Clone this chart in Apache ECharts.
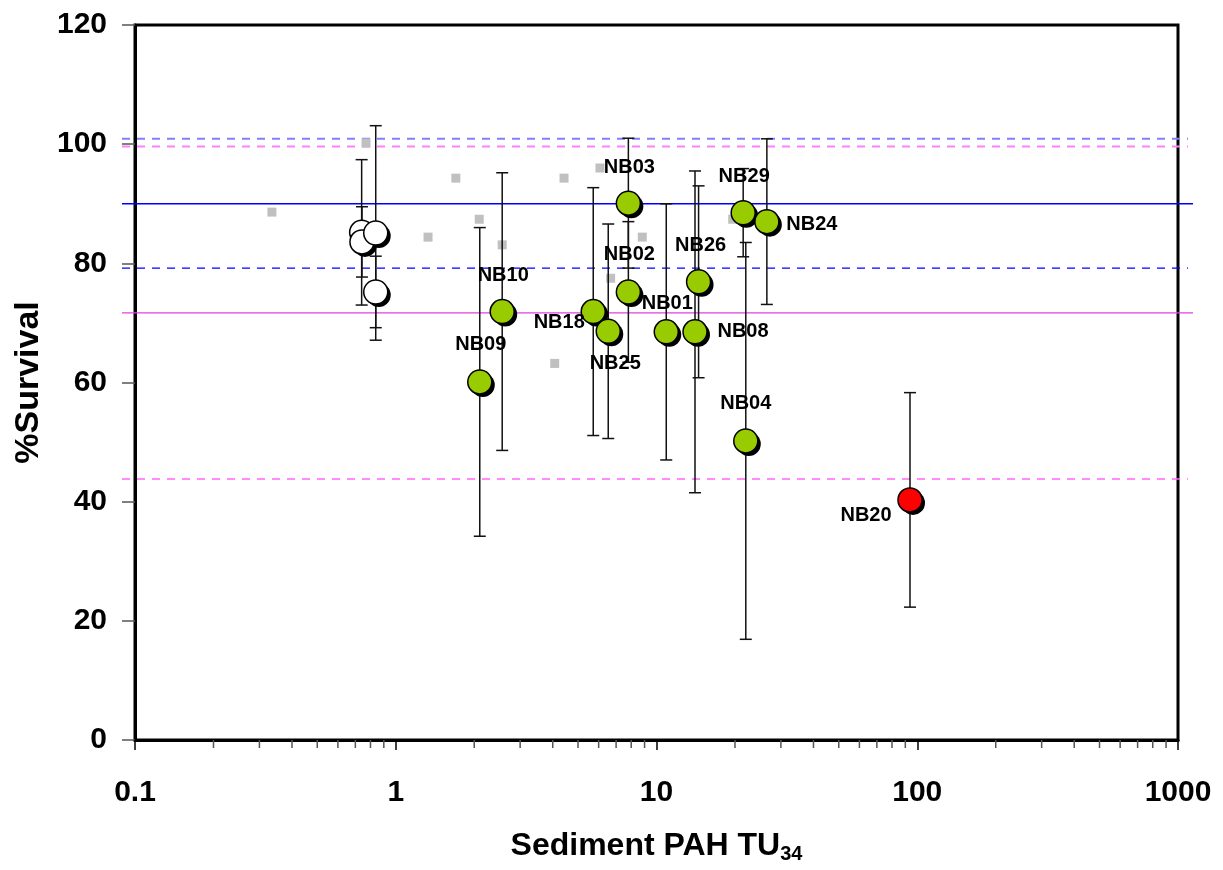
<!DOCTYPE html>
<html>
<head>
<meta charset="utf-8">
<script src="https://cdn.jsdelivr.net/npm/echarts@6/dist/echarts.min.js"></script>
<style>html,body{margin:0;padding:0;background:#fff;}#chart{width:1223px;height:870px;}</style>
</head>
<body>
<div id="chart"></div>
<script>
// ---- data ----
const siteNames    = ['NB09','NB10','NB18','NB25','NB03','NB02','NB01','NB08','NB26','NB29','NB24','NB04','NB20'];
const siteTU       = [2.10, 2.56, 5.72, 6.53, 7.80, 7.80, 10.9, 14.05, 14.5, 21.5, 26.5, 22.0, 93.8];
const siteSurvival = [60.1, 71.9, 71.9, 68.6, 90.1, 75.2, 68.5, 68.5, 76.9, 88.5, 87.0, 50.2, 40.3];
const siteSD       = [25.9, 23.3, 20.8, 18.0, 10.9, 11.8, 21.5, 27.0, 16.1, 7.4, 13.9, 33.3, 18.0];
const significantSites = ['NB20'];

const controlTU       = [0.740, 0.742, 0.838, 0.838];
const controlSurvival = [85.2, 83.6, 85.1, 75.2];
const controlSD       = [12.2, 5.9, 18.0, 6.0];

const otherTU       = [0.335, 0.769, 1.33, 1.70, 2.09, 2.56, 4.42, 6.07, 4.07, 6.67, 8.82, 19.6];
const otherSurvival = [88.6, 100.2, 84.4, 94.3, 87.4, 83.1, 94.3, 96.0, 63.2, 77.5, 84.4, 87.4];

const refValues = [100.9, 99.6, 90.0, 79.2, 71.7, 43.8];

const yTicks = [0, 20, 40, 60, 80, 100, 120];
const xDecades = [0.1, 1, 10, 100, 1000];

// ---- styles (not data) ----
const refStyles = [
  {color:'#7f7fff', width:2,   type:[8,7]},
  {color:'#ff80ff', width:2,   type:[8,7]},
  {color:'#0000ff', width:1.3, type:'solid'},
  {color:'#0000ff', width:1.3, type:[8,7]},
  {color:'#e040e0', width:1.3, type:'solid'},
  {color:'#ff66ff', width:1.5, type:[8,7]}
];
const labelOffsets = {
  NB03:[1,-36], NB02:[1,-37], NB10:[1,-36], NB09:[1,-37], NB18:[-34,11], NB25:[7,32],
  NB01:[1,-28], NB08:[48,0], NB26:[2,-36], NB29:[1,-36], NB24:[45,3], NB04:[0,-37], NB20:[-44,16]
};
const FONT = 'Liberation Sans, Arial, Helvetica, sans-serif';

// minor ticks 2..9 per decade
const minorTicks = [];
for (let d = 0; d < xDecades.length - 1; d++) {
  for (let m = 2; m <= 9; m++) minorTicks.push([+(xDecades[d] * m).toPrecision(3), 0]);
}

const chart = echarts.init(document.getElementById('chart'));

const series = [];

// reference lines, drawn across the plot and slightly beyond the frame
series.push({
  type: 'custom', z: 1, clip: false, silent: true,
  data: refValues.map((v, i) => [xDecades[0], v, i]),
  renderItem: function (params, api) {
    const v = api.value(1), i = api.value(2);
    const s = refStyles[i];
    const a = api.coord([xDecades[0], v]);
    const b = api.coord([xDecades[xDecades.length - 1], v]);
    const ext = s.type === 'solid' ? 15 : 10;
    return {type: 'line', shape: {x1: a[0] - 13, y1: a[1], x2: b[0] + ext, y2: b[1]},
      style: {stroke: s.color, lineWidth: s.width, lineDash: s.type === 'solid' ? null : s.type}};
  }
});

series.push({
  type: 'scatter', z: 2, symbol: 'rect', symbolSize: 9,
  itemStyle: {color: '#c0c0c0', opacity: 1},
  data: otherTU.map((x, i) => [x, otherSurvival[i]])
});

function errRender(params, api) {
  const x = api.value(0), y = api.value(1), e = api.value(2);
  const top = api.coord([x, y + e]);
  const bot = api.coord([x, y - e]);
  const hw = 6;
  const st = {stroke: '#111', lineWidth: 1.5};
  return {type: 'group', children: [
    {type: 'line', shape: {x1: top[0], y1: top[1], x2: bot[0], y2: bot[1]}, style: st},
    {type: 'line', shape: {x1: top[0] - hw, y1: top[1], x2: top[0] + hw, y2: top[1]}, style: st},
    {type: 'line', shape: {x1: bot[0] - hw, y1: bot[1], x2: bot[0] + hw, y2: bot[1]}, style: st}
  ]};
}
const errData = controlTU.map((x, i) => [x, controlSurvival[i], controlSD[i]])
  .concat(siteTU.map((x, i) => [x, siteSurvival[i], siteSD[i]]));
series.push({type: 'custom', z: 3, renderItem: errRender, data: errData, clip: false, silent: true});

// shadows
const allPts = controlTU.map((x, i) => [x, controlSurvival[i]]).concat(siteTU.map((x, i) => [x, siteSurvival[i]]));
series.push({
  type: 'scatter', z: 4, symbol: 'circle', symbolSize: 24, symbolOffset: [3, 3],
  itemStyle: {color: '#000', opacity: 1}, silent: true, data: allPts
});

series.push({
  type: 'scatter', z: 5, symbol: 'circle', symbolSize: 24,
  itemStyle: {color: '#ffffff', borderColor: '#000', borderWidth: 1.5, opacity: 1},
  data: controlTU.map((x, i) => [x, controlSurvival[i]])
});

series.push({
  type: 'scatter', z: 6, symbol: 'circle', symbolSize: 24,
  itemStyle: {borderColor: '#000', borderWidth: 1.5, opacity: 1},
  data: siteTU.map((x, i) => ({
    name: siteNames[i],
    value: [x, siteSurvival[i]],
    itemStyle: {color: significantSites.includes(siteNames[i]) ? '#ff0000' : '#99cc00', opacity: 1},
    label: {show: true, position: 'inside', offset: labelOffsets[siteNames[i]], formatter: siteNames[i],
      color: '#000', fontSize: 20, fontWeight: 'bold', fontFamily: FONT}
  }))
});

// minor x ticks
series.push({
  type: 'custom', z: 7, clip: false, silent: true, data: minorTicks,
  renderItem: function (params, api) {
    const p = api.coord([api.value(0), 0]);
    return {type: 'line', shape: {x1: p[0], y1: p[1], x2: p[0], y2: p[1] + 8}, style: {stroke: '#555', lineWidth: 1.5}};
  }
});

chart.setOption({
  animation: false,
  backgroundColor: '#fff',
  grid: {left: 135, right: 45, top: 25, bottom: 130, show: true, borderColor: '#000', borderWidth: 3},
  xAxis: {
    type: 'log', logBase: 10, min: xDecades[0], max: xDecades[xDecades.length - 1],
    name: '{m|Sediment PAH TU}{s|34}', nameLocation: 'middle', nameGap: 88,
    nameTextStyle: {rich: {
      m: {fontSize: 32, fontWeight: 'bold', fontFamily: FONT, color: '#000', lineHeight: 36, verticalAlign: 'middle'},
      s: {fontSize: 20, fontWeight: 'bold', fontFamily: FONT, color: '#000', lineHeight: 16, verticalAlign: 'bottom'}
    }},
    axisLine: {lineStyle: {color: '#000', width: 3}},
    axisTick: {show: true, length: 10, lineStyle: {color: '#000', width: 1.5}},
    minorTick: {show: false},
    splitLine: {show: false},
    axisLabel: {fontSize: 30, fontWeight: 'bold', fontFamily: FONT, color: '#000', margin: 38,
      formatter: v => String(v)}
  },
  yAxis: {
    type: 'value', min: yTicks[0], max: yTicks[yTicks.length - 1], interval: 20,
    name: '%Survival', nameLocation: 'middle', nameGap: 84,
    nameTextStyle: {fontSize: 34, fontWeight: 'bold', fontFamily: FONT, color: '#000'},
    axisLine: {lineStyle: {color: '#000', width: 3}},
    axisTick: {show: true, length: 13, lineStyle: {color: '#555', width: 1.5}},
    splitLine: {show: false},
    axisLabel: {fontSize: 30, fontWeight: 'bold', fontFamily: FONT, color: '#000', margin: 28}
  },
  series: series
});
</script>
</body>
</html>
